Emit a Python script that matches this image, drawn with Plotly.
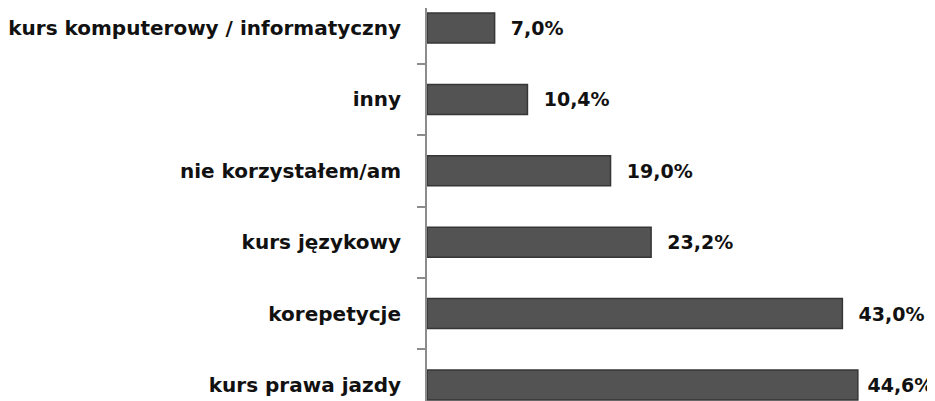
import plotly.graph_objects as go

categories = ["kurs prawa jazdy", "korepetycje", "kurs językowy",
              "nie korzystałem/am", "inny", "kurs komputerowy / informatyczny"]
values = [44.6, 43.0, 23.2, 19.0, 10.4, 7.0]
value_labels = ["44,6%", "43,0%", "23,2%", "19,0%", "10,4%", "7,0%"]

FONT = "DejaVu Sans"
X_MAX = 50

# less padding for labels that would run past the right edge
texts = [("\u00a0" if v > 44 else "\u00a0\u00a0") + t for v, t in zip(values, value_labels)]

fig = go.Figure()
fig.add_trace(go.Bar(
    x=values, y=categories, orientation="h",
    marker=dict(color="#535353", line=dict(color="#363636", width=1.5)),
    width=0.42,
    text=texts,
    textposition="outside",
    textfont=dict(family=FONT, size=19, color="#111111", weight="bold"),
    cliponaxis=False,
    hoverinfo="skip",
))

fig.update_layout(
    width=927, height=393,
    margin=dict(l=419, r=25, t=0, b=0),
    paper_bgcolor="white", plot_bgcolor="white",
    showlegend=False,
    font=dict(family=FONT, size=19, color="#111111"),
)
fig.update_xaxes(range=[0, X_MAX], visible=False)
fig.update_yaxes(
    type="category", categoryorder="array", categoryarray=categories,
    range=[-0.224, 5.28],
    showline=True, linecolor="#8c8c8c", linewidth=2,
    ticks="outside", tickson="boundaries", ticklen=8, tickcolor="#8c8c8c", tickwidth=2,
    showgrid=False, ticklabelstandoff=20,
    tickfont=dict(family=FONT, size=20, color="#111111", weight="bold"),
)

fig.write_html("out.html")
